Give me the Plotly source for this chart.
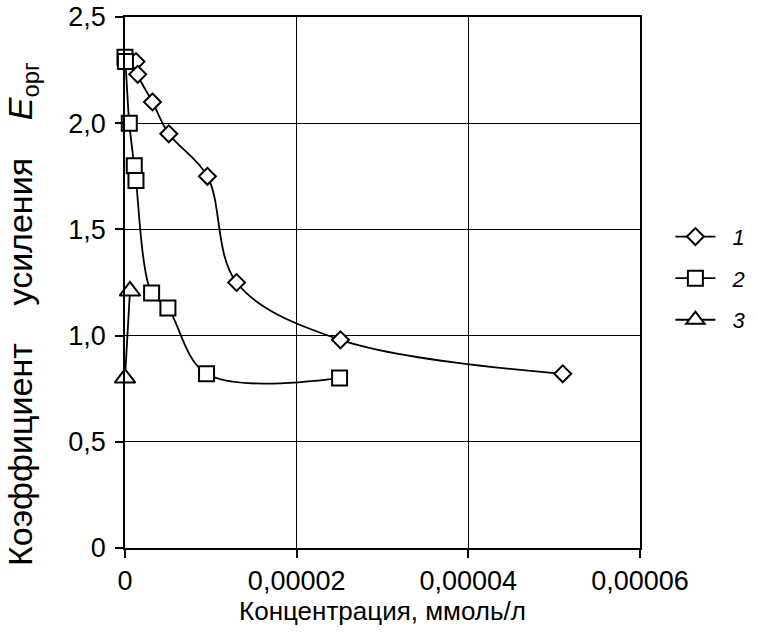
import plotly.graph_objects as go

# Data
x1 = [1.28e-6, 1.48e-6, 3.2e-6, 5.1e-6, 9.6e-6, 1.30e-5, 2.51e-5, 5.10e-5]
y1 = [2.29, 2.23, 2.10, 1.95, 1.75, 1.25, 0.98, 0.82]

x2 = [0.0, 0.05e-6, 0.5e-6, 1.08e-6, 1.28e-6, 3.1e-6, 5.0e-6, 9.5e-6, 2.50e-5]
y2 = [2.31, 2.29, 2.00, 1.80, 1.73, 1.20, 1.13, 0.82, 0.80]

x3 = [0.0, 0.58e-6]
y3 = [0.80, 1.21]

series_names = ["\u00a0\u00a0<i>1</i>", "\u00a0\u00a0<i>2</i>", "\u00a0\u00a0<i>3</i>"]
x_tickvals = [0, 0.00002, 0.00004, 0.00006]
x_ticktext = ["0", "0,00002", "0,00004", "0,00006"]
y_tickvals = [0, 0.5, 1.0, 1.5, 2.0, 2.5]
y_ticktext = ["0", "0,5", "1,0", "1,5", "2,0", "2,5"]

FONT = "Arial, Liberation Sans, sans-serif"

fig = go.Figure()
specs = [
    (x1, y1, "diamond", 13),
    (x2, y2, "square", 15),
    (x3, y3, "triangle-up", 18),
]
for (xs, ys, sym, sz), name in zip(specs, series_names):
    fig.add_trace(go.Scatter(
        x=xs, y=ys, name=name, mode="lines+markers",
        line=dict(color="black", width=1.8, shape="spline", smoothing=1.0),
        marker=dict(symbol=sym, size=sz, color="white",
                    line=dict(color="black", width=2)),
        cliponaxis=False, legendgroup=name,
    ))

fig.update_layout(
    width=757, height=643,
    margin=dict(l=125, r=117, t=17, b=95, autoexpand=False),
    paper_bgcolor="white", plot_bgcolor="white",
    font=dict(family=FONT, size=27, color="black"),
    showlegend=True,
    legend=dict(x=1.059, xanchor="left", y=0.508, yanchor="middle",
                font=dict(family=FONT, size=22, color="black"),
                tracegroupgap=10, traceorder="grouped",
                bgcolor="rgba(0,0,0,0)", itemwidth=40),
    xaxis=dict(range=[0, 0.00006], tickvals=x_tickvals, ticktext=x_ticktext,
               showgrid=True, gridcolor="black", gridwidth=1,
               showline=True, linecolor="black", linewidth=1.5, mirror=True,
               ticks="outside", ticklen=8, tickwidth=1.5, tickcolor="black",
               ticklabelstandoff=0, tickfont=dict(size=27),
               zeroline=False,
               title=dict(text="Концентрация, ммоль/л", standoff=6,
                          font=dict(size=26))),
    yaxis=dict(range=[0, 2.5], tickvals=y_tickvals, ticktext=y_ticktext,
               showgrid=True, gridcolor="black", gridwidth=1,
               showline=True, linecolor="black", linewidth=1.5, mirror=True,
               ticks="outside", ticklen=8, tickwidth=1.5, tickcolor="black",
               ticklabelstandoff=4, tickfont=dict(size=27),
               zeroline=False),
    annotations=[dict(
        text="Коэффициент    усиления    <i>E</i><sub>орг</sub>",
        textangle=-90, xref="paper", yref="paper",
        x=(22 - 125) / 515, y=(548 - 314) / 531,
        xanchor="center", yanchor="middle", showarrow=False,
        font=dict(family=FONT, size=34, color="black"),
    )],
)

fig.write_html("out.html")
